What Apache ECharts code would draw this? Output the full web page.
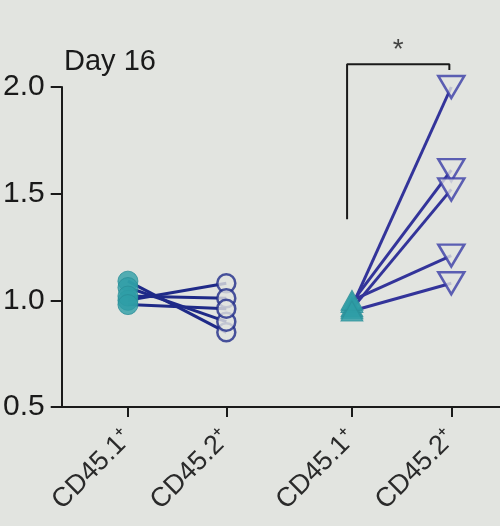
<!DOCTYPE html>
<html><head><meta charset="utf-8">
<script src="https://cdn.jsdelivr.net/npm/echarts@6/dist/echarts.min.js"></script>
<style>html,body{margin:0;padding:0;background:#e2e4e0}#c{width:500px;height:526px}</style>
</head><body><div id="c"></div>
<script>
// Category positions on a numeric x scale
var catPos = [0.68, 1.69, 2.98, 4.0];
var catLabels = ['CD45.1\u207A', 'CD45.2\u207A', 'CD45.1\u207A', 'CD45.2\u207A'];
var yTicks = [0.5, 1.0, 1.5, 2.0];
// Paired values per mouse
var g1CD451 = [1.09, 1.06, 1.00, 1.02, 0.98];
var g1CD452 = [0.85, 0.90, 1.08, 1.01, 0.96];
var g2CD451 = [0.97, 0.99, 0.96, 1.00, 0.95];
var g2CD452 = [2.00, 1.61, 1.52, 1.21, 1.08];
// significance bracket
var bracketX = [2.93, 3.98];
var bracketY = [1.38, 2.107, 2.08];

var bg = '#e2e4e0';
var navy = '#1f2a88';
var purple = '#33349a';
var teal = '#2e9da6';
var font = 'Liberation Sans, Arial, sans-serif';

var series = [];
function pairLines(a, b, x0, x1, col) {
  for (var i = 0; i < a.length; i++) {
    series.push({type: 'line', data: [[x0, a[i]], [x1, b[i]]], symbol: 'none',
      lineStyle: {color: col, width: 3}, z: 2, silent: true, clip: false});
  }
}
pairLines(g1CD451, g1CD452, catPos[0], catPos[1], navy);
pairLines(g2CD451, g2CD452, catPos[2], catPos[3], purple);
series.push({type: 'scatter', data: g1CD451.map(function(v){return [catPos[0], v];}),
  symbol: 'circle', symbolSize: 20, itemStyle: {color: teal, borderColor: '#2a8f99', borderWidth: 1}, z: 3});
series.push({type: 'scatter', data: g1CD452.map(function(v){return [catPos[1], v];}),
  symbol: 'circle', symbolSize: 18, itemStyle: {color: bg, borderColor: navy, borderWidth: 2.5}, z: 3});
series.push({type: 'scatter', data: g2CD451.map(function(v){return [catPos[2], v];}),
  symbol: 'triangle', symbolSize: [22, 20], itemStyle: {color: teal, borderColor: '#2a8f99', borderWidth: 1}, z: 3});
series.push({type: 'scatter', data: g2CD452.map(function(v){return [catPos[3], v];}),
  symbol: 'triangle', symbolRotate: 180, symbolSize: [26, 22], itemStyle: {color: bg, borderColor: '#3a3ca6', borderWidth: 2.5}, z: 3});
// bracket
series.push({type: 'line', clip: false, symbol: 'none', silent: true,
  data: [[bracketX[0], bracketY[0]], [bracketX[0], bracketY[1]], [bracketX[1], bracketY[1]], [bracketX[1], bracketY[2]]],
  lineStyle: {color: '#1a1a1a', width: 2}, z: 1});
series.push({type: 'scatter', clip: false, symbolSize: 0, silent: true,
  data: [[(bracketX[0] + bracketX[1]) / 2, bracketY[1]]],
  label: {show: true, formatter: '*', position: 'top', distance: 0, fontSize: 28, color: '#1a1a1a', fontFamily: font}});

var chart = echarts.init(document.getElementById('c'));
chart.setOption({
  backgroundColor: bg,
  animation: false,
  title: {text: 'Day 16', left: 59, top: 42, textStyle: {fontSize: 29, fontWeight: 'normal', color: '#1a1a1a', fontFamily: font}},
  grid: {left: 61, right: 0, top: 87, bottom: 119, containLabel: false},
  xAxis: {type: 'value', min: 0, max: 4.5, splitLine: {show: false},
    axisLine: {show: true, lineStyle: {color: '#1a1a1a', width: 2}},
    axisTick: {show: true, customValues: catPos, length: 10, lineStyle: {color: '#1a1a1a', width: 2}},
    axisLabel: {customValues: catPos, rotate: 45, margin: 27, fontSize: 27, color: '#2a2a2a',
      fontFamily: font,
      formatter: function(v){ for (var i=0;i<catPos.length;i++) if (Math.abs(catPos[i]-v)<1e-6) return catLabels[i]; return ''; }}
  },
  yAxis: {type: 'value', min: 0.5, max: 2.0, interval: 0.5, splitLine: {show: false},
    axisLine: {show: true, lineStyle: {color: '#1a1a1a', width: 2}},
    axisTick: {show: true, length: 11, lineStyle: {color: '#1a1a1a', width: 2}},
    axisLabel: {fontSize: 30, color: '#1a1a1a', margin: 17, fontFamily: font,
      formatter: function(v){return v.toFixed(1);}}
  },
  series: series
});
</script></body></html>
